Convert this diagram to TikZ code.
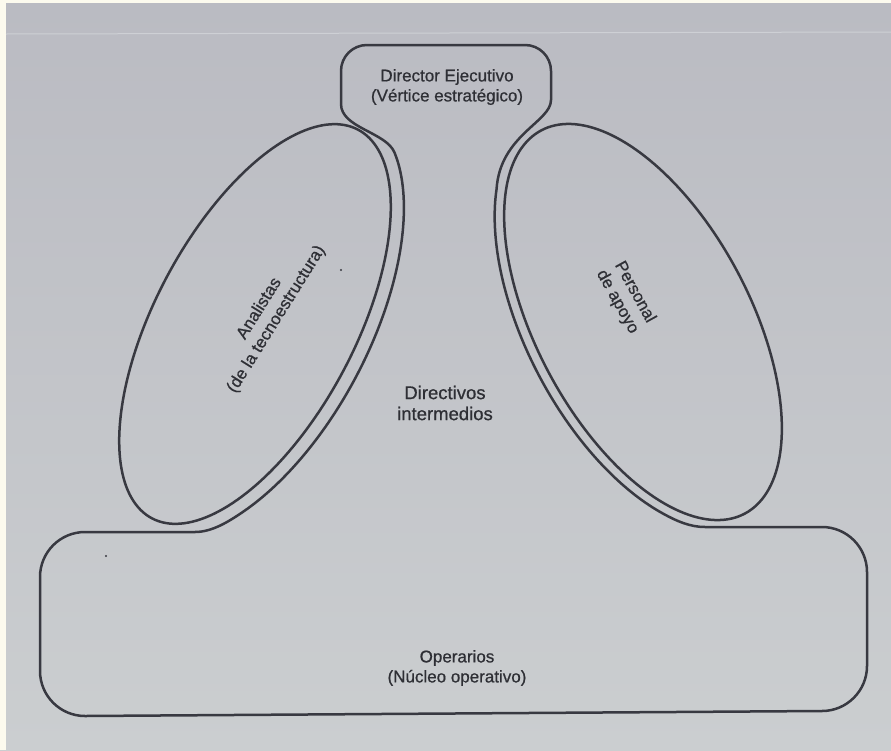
\documentclass[tikz,border=0pt]{standalone}
\usepackage{fontspec}
\setmainfont{Liberation Sans}
\newfontfamily\labelfont[FakeBold=0.7]{Liberation Sans}
\begin{document}
\begin{tikzpicture}[x=1pt,y=-1pt,
  outline/.style={draw=ink,line width=2.5pt,line join=round,line cap=round},
  lab/.style={text=txt,align=center,inner sep=0pt,font=\labelfont\fontsize{17}{20}\selectfont},
  speck/.style={fill=ink}]
\definecolor{ink}{HTML}{383941}
\definecolor{txt}{HTML}{2E2F35}
\definecolor{pagetop}{HTML}{BABBC2}
\definecolor{pagebot}{HTML}{CBCED0}
\definecolor{cream}{HTML}{FCFAEE}
\definecolor{fold}{HTML}{CED0D5}

% page background
\useasboundingbox (0,0) rectangle (891,750);
\shade[top color=pagetop,bottom color=pagebot] (0,0) rectangle (891,750);
\fill[cream] (0,0) rectangle (6,750);
\fill[cream] (0,0) rectangle (891,3);
\draw[fold,line width=1pt] (6,34) -- (891,32);

% end points where the outer contour meets the offset ellipse arcs
\coordinate (ro1) at ({643+227*cos(145)*0.469-117*sin(145)*0.883},{322+227*cos(145)*0.883+117*sin(145)*0.469});
\coordinate (lo1) at ({255+234*cos(138)*0.469+114*sin(138)*0.883},{324-234*cos(138)*0.883+114*sin(138)*0.469});

% outer contour: strategic apex, middle line and operating core
\draw[outline]
  (341,104) -- (341,71) .. controls (341,56.6) and (352.6,45) .. (367,45)
  -- (525,45) .. controls (539.4,45) and (551,56.6) .. (551,71)
  -- (551,100) .. controls (551,122) and (500,135) .. (ro1)
  -- plot[domain=145:38,samples=80,variable=\t]
     ({643+227*cos(\t)*0.469-117*sin(\t)*0.883},{322+227*cos(\t)*0.883+117*sin(\t)*0.469})
  .. controls (676.4,521) and (690,527) .. (705,527)
  -- (822,527) .. controls (846.8,527) and (867,547.2) .. (867,572)
  -- (867,666) .. controls (867,690.8) and (846.8,711) .. (822,711)
  -- (85,716) .. controls (60.2,716) and (40,695.8) .. (40,671)
  -- (40,577) .. controls (40,552.2) and (60.2,532) .. (85,532)
  -- (195,532) .. controls (212,532) and (228.3,521.7) .. (lo1)
  -- plot[domain=138:22,samples=80,variable=\t]
     ({255+234*cos(\t)*0.469+114*sin(\t)*0.883},{324-234*cos(\t)*0.883+114*sin(\t)*0.469})
  .. controls (386,132) and (341,128) .. (341,104) -- cycle;

% technostructure (left) and support staff (right)
\draw[outline] plot[domain=0:360,samples=181,variable=\t]
  ({255+220*cos(\t)*0.469+100*sin(\t)*0.883},{324-220*cos(\t)*0.883+100*sin(\t)*0.469}) -- cycle;
\draw[outline] plot[domain=0:360,samples=181,variable=\t]
  ({643+217*cos(\t)*0.469-107*sin(\t)*0.883},{322+217*cos(\t)*0.883+107*sin(\t)*0.469}) -- cycle;

% labels
\node[lab] (apex) at (447,87) {Director Ejecutivo\\(Vértice estratégico)};
\node[lab,font=\labelfont\fontsize{18.5}{21}\selectfont] (middle) at (445,403) {Directivos\\intermedios};
\node[lab] (core) at (457,668) {Operarios\\(Núcleo operativo)};
\node[lab,rotate=58] (techno) at (268,314) {Analistas\\(de la tecnoestructura)};
\node[lab,rotate=-61] (support) at (626,297) {Personal\\de apoyo};

% small ink specks
\fill[speck] (341,270) circle (1.2);
\fill[speck] (106,556) circle (1.1);
\end{tikzpicture}
\end{document}
